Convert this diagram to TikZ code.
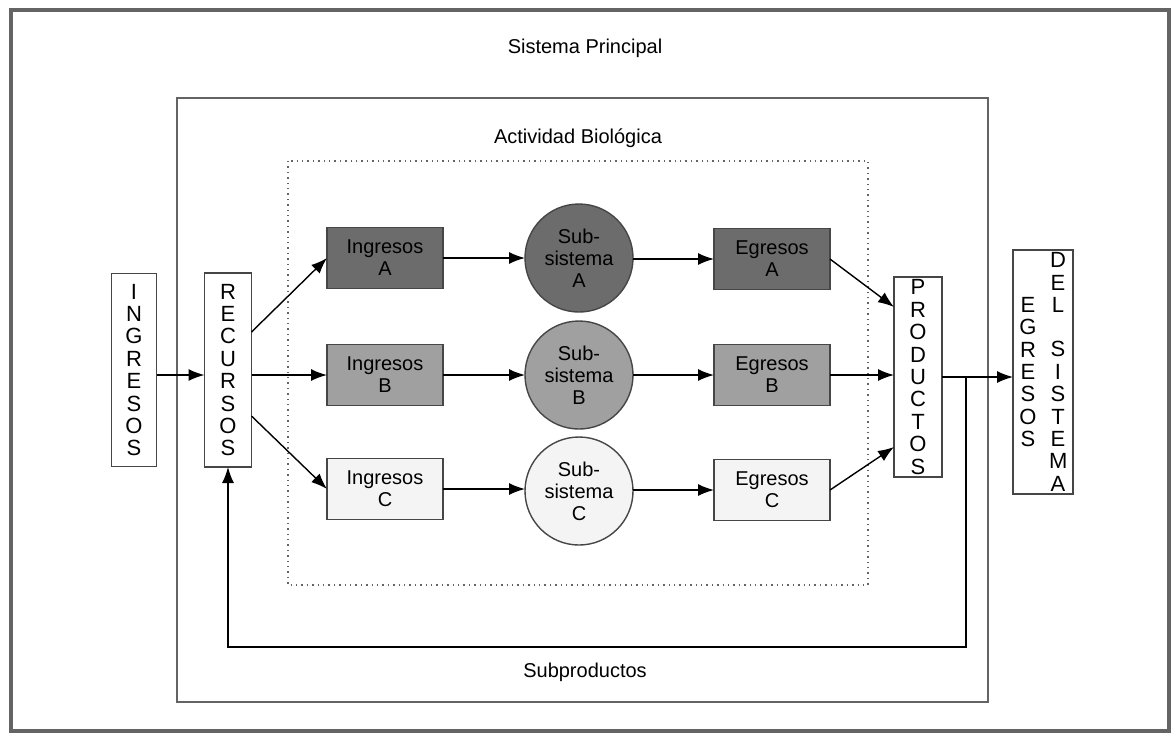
\documentclass[tikz,border=0pt]{standalone}
\usepackage{fontspec}
\setmainfont{Liberation Sans}
\usetikzlibrary{arrows.meta}
\begin{document}
\begin{tikzpicture}[x=0.5pt,y=-0.5pt,
	txt/.style={inner sep=0pt,outer sep=0pt,align=center,font=\fontsize{10}{11}\selectfont},
	vbox/.style={txt,draw=boxColor,line width=0.7pt,fill=white,rectangle,font=\fontsize{11}{11.2}\selectfont},
	flowbox/.style={txt,draw=boxColor,line width=0.7pt,rectangle,minimum width=58pt,minimum height=30.5pt},
	subsys/.style={txt,draw=boxColor,line width=0.7pt,circle,minimum size=54pt},
	conn/.style={draw=drawColor,line width=0.7pt,-{Latex[length=8pt,width=6pt]}},
	plainconn/.style={draw=drawColor,line width=0.7pt}]
\definecolor{drawColor}{RGB}{0,0,0}
\definecolor{boxColor}{RGB}{70,70,70}
\definecolor{frameColor}{RGB}{100,100,100}
\definecolor{fillA}{RGB}{108,108,108}
\definecolor{fillB}{RGB}{160,160,160}
\definecolor{fillC}{RGB}{244,244,244}
\path[use as bounding box,fill=white] (0,0) rectangle (1172,736);

\path[draw=frameColor,line width=1.6pt] (11,10) rectangle (1169,731);

\path[draw=frameColor,line width=0.9pt] (177,98) rectangle (988,702);

\path[draw=frameColor,line width=0.7pt,dotted] (288,161) rectangle (868,585);

\node[txt] (lblPrincipal) at (585,48) {Sistema Principal};

\node[txt] (lblActividad) at (578,138) {Actividad Biológica};

\node[txt] (lblSubprod) at (585,672) {Subproductos};

\node[vbox,minimum width=22.5pt,minimum height=96.5pt] (ingresos) at (134,370) {I\\N\\G\\R\\E\\S\\O\\S};

\node[vbox,minimum width=23.5pt,minimum height=97pt] (recursos) at (228,370) {R\\E\\C\\U\\R\\S\\O\\S};

\node[vbox,minimum width=24pt,minimum height=100pt] (productos) at (918,377) {P\\R\\O\\D\\U\\C\\T\\O\\S};

\node[vbox,minimum width=30pt,minimum height=122pt] (egrSistema) at (1043,372) {\parbox[c]{9pt}{\centering E\\G\\R\\E\\S\\O\\S}\hspace{6pt}\parbox[c]{9pt}{\centering D\\E\\L\\[11pt]S\\I\\S\\T\\E\\M\\A}};

\node[flowbox,fill=fillA] (ingA) at (385,258) {Ingresos\\A};

\node[flowbox,fill=fillB] (ingB) at (385,375) {Ingresos\\B};

\node[flowbox,fill=fillC] (ingC) at (385,489) {Ingresos\\C};

\node[subsys,fill=fillA] (subA) at (579,258) {Sub-\\sistema\\A};

\node[subsys,fill=fillB] (subB) at (579,375) {Sub-\\sistema\\B};

\node[subsys,fill=fillC] (subC) at (579,491) {Sub-\\sistema\\C};

\node[flowbox,fill=fillA] (egrA) at (772,259) {Egresos\\A};

\node[flowbox,fill=fillB] (egrB) at (772,375) {Egresos\\B};

\node[flowbox,fill=fillC] (egrC) at (772,490) {Egresos\\C};

\coordinate (fbTop) at (966,377);

\coordinate (fbBottom) at (966,647);

\path[conn] (ingresos.east |- ingB.west) -- (recursos.west |- ingB.west);

\path[conn] ([yshift=19pt]recursos.east) -- (ingA.west);

\path[conn] (recursos.east |- ingB.west) -- (ingB.west);

\path[conn] ([yshift=-23pt]recursos.east) -- (ingC.west);

\path[conn] (ingA.east) -- (subA.west |- ingA.east);

\path[conn] (ingB.east) -- (subB.west);

\path[conn] (ingC.east) -- (subC.west |- ingC.east);

\path[conn] (subA.east |- egrA.west) -- (egrA.west);

\path[conn] (subB.east) -- (egrB.west);

\path[conn] (subC.east |- egrC.west) -- (egrC.west);

\path[conn] (egrA.east) -- ([yshift=35pt]productos.west);

\path[conn] (egrB.east) -- (productos.west |- egrB.east);

\path[conn] (egrC.east) -- ([yshift=-35pt]productos.west);

\path[conn] (productos.east) -- (egrSistema.west |- productos.east);

\path[conn] (fbTop) -- (fbBottom) -| (recursos.south);
\end{tikzpicture}
\end{document}
